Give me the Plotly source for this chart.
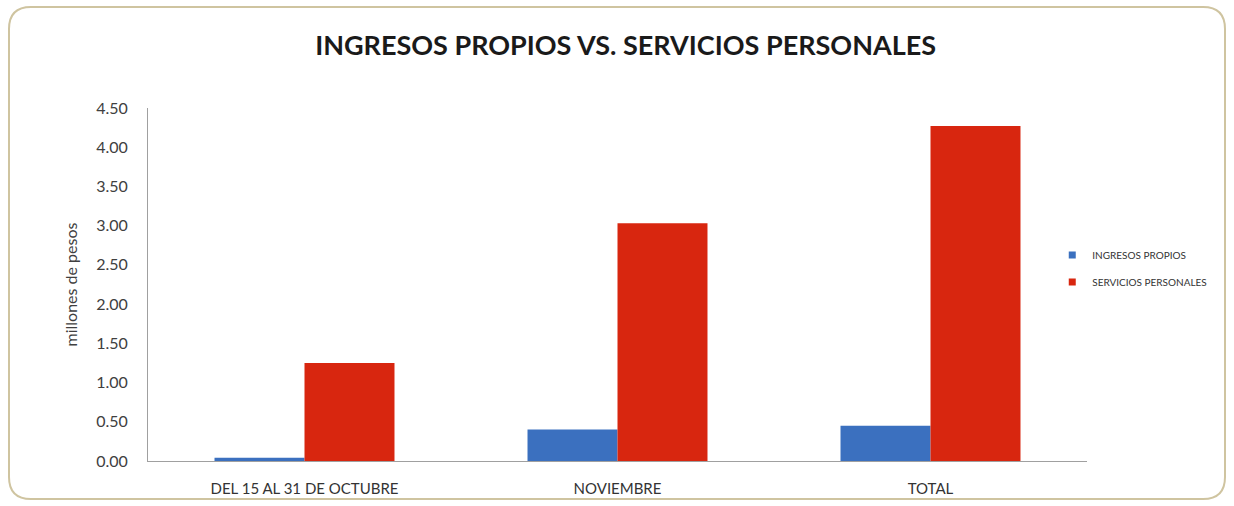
import plotly.graph_objects as go

# Datos (millones de pesos)
categorias = ["DEL 15 AL 31 DE OCTUBRE", "NOVIEMBRE", "TOTAL"]
ingresos_propios = [0.04, 0.40, 0.45]
servicios_personales = [1.25, 3.03, 4.27]
ticks_y = [0, 0.5, 1.0, 1.5, 2.0, 2.5, 3.0, 3.5, 4.0, 4.5]

FONT = "Lato, 'Open Sans', sans-serif"
AZUL = "#3B70BF"
ROJO = "#D8260F"

fig = go.Figure()
fig.add_trace(go.Bar(x=categorias, y=ingresos_propios, name="INGRESOS PROPIOS",
                     marker=dict(color=AZUL, line=dict(width=0)), showlegend=False))
fig.add_trace(go.Bar(x=categorias, y=servicios_personales, name="SERVICIOS PERSONALES",
                     marker=dict(color=ROJO, line=dict(width=0)), showlegend=False))

# Entradas de leyenda con marcador cuadrado pequeño
for nombre, color, grupo in [("INGRESOS PROPIOS", AZUL, "a"),
                             ("SERVICIOS PERSONALES", ROJO, "b")]:
    fig.add_trace(go.Scatter(x=[None], y=[None], mode="markers", name=nombre,
                             legendgroup=grupo,
                             marker=dict(symbol="square", size=7, color=color)))

fig.update_layout(
    width=1234, height=506,
    margin=dict(l=148, r=147, t=108, b=45),
    paper_bgcolor="white", plot_bgcolor="white",
    barmode="group", bargap=0.425, bargroupgap=0,
    font=dict(family=FONT, color="#404040"),
    title=dict(text="<b>INGRESOS PROPIOS VS. SERVICIOS PERSONALES</b>",
               x=0.507, xanchor="center", y=0.91, yanchor="middle",
               font=dict(family=FONT, size=27, color="#1a1a1a")),
    legend=dict(x=0.963, xanchor="left", y=0.545, yanchor="middle",
                font=dict(size=10, color="#333333"), bgcolor="rgba(0,0,0,0)",
                tracegroupgap=8, itemwidth=30),
    showlegend=True,
)

fig.update_yaxes(range=[0, 4.5], tickvals=ticks_y, tickformat=".2f",
                 showgrid=False, zeroline=False, showline=True, automargin=False,
                 linecolor="#a0a0a0", linewidth=1, ticklabelstandoff=16,
                 tickfont=dict(size=16, color="#404040"),
                 title=dict(text="millones de pesos", font=dict(size=16, color="#404040"),
                            standoff=14))
fig.update_xaxes(showgrid=False, showline=True, linecolor="#a0a0a0", linewidth=1,
                 automargin=False, ticklabelstandoff=14,
                 tickfont=dict(size=15, color="#333333"))

# Marco redondeado alrededor del gráfico
W, H = 1234, 506
x0, y0, x1, y1, r = 9, 7, 1225, 499, 22
def px(x):
    return (x - 148) / (W - 148 - 147)
def py(y):
    return (H - 45 - y) / (H - 108 - 45)
fig.add_shape(
    type="path", xref="paper", yref="paper",
    path=(f"M {px(x0 + r)} {py(y0)} L {px(x1 - r)} {py(y0)} "
          f"Q {px(x1)} {py(y0)} {px(x1)} {py(y0 + r)} "
          f"L {px(x1)} {py(y1 - r)} Q {px(x1)} {py(y1)} {px(x1 - r)} {py(y1)} "
          f"L {px(x0 + r)} {py(y1)} Q {px(x0)} {py(y1)} {px(x0)} {py(y1 - r)} "
          f"L {px(x0)} {py(y0 + r)} Q {px(x0)} {py(y0)} {px(x0 + r)} {py(y0)} Z"),
    line=dict(color="#CFC4A0", width=2), layer="below",
)

fig.write_html("out.html")
